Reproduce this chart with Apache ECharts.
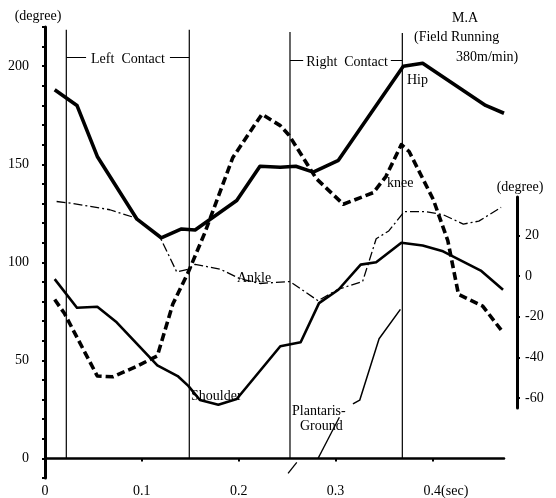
<!DOCTYPE html>
<html>
<head>
<meta charset="utf-8">
<script src="https://cdn.jsdelivr.net/npm/echarts@6/dist/echarts.min.js"></script>
<style>
  html, body { margin: 0; background: #fff; }
  #chart { width: 556px; height: 498px; }
</style>
</head>
<body>
<div id="chart"></div>
<script>
// time in sec, angles in degree (left axis)
const hipTime  = [0.010, 0.033, 0.054, 0.095, 0.120, 0.141, 0.155, 0.198, 0.222, 0.243, 0.259, 0.277, 0.303, 0.370, 0.390, 0.455, 0.474];
const hipAngle = [188, 180, 154, 122, 112.5, 117, 116.5, 131.5, 149, 148.5, 149, 146, 152, 200, 201.5, 180, 176];

const kneeTime  = [0.010, 0.020, 0.054, 0.070, 0.095, 0.116, 0.132, 0.148, 0.165, 0.194, 0.224, 0.243, 0.252, 0.280, 0.308, 0.339, 0.352, 0.368, 0.376, 0.401, 0.416, 0.427, 0.435, 0.452, 0.471];
const kneeAngle = [81, 74, 42, 41.6, 47, 52.3, 78.7, 95, 115, 153.5, 175.5, 169.7, 164.8, 142.8, 129.6, 135.5, 143.7, 160, 156.5, 132, 111, 83.6, 81.7, 77.7, 65.5];

const shoulderTime  = [0.010, 0.033, 0.054, 0.074, 0.116, 0.137, 0.148, 0.160, 0.179, 0.198, 0.243, 0.264, 0.283, 0.303, 0.326, 0.342, 0.368, 0.390, 0.411, 0.450, 0.473];
const shoulderAngle = [91.4, 76.8, 77.3, 69.4, 47.4, 42, 37, 29.8, 27.4, 30.3, 57.2, 59.2, 79.2, 86, 98.8, 100, 110, 108.6, 105.6, 95.8, 86];

// right axis (degree)
const ankleTime  = [0.012, 0.029, 0.067, 0.095, 0.119, 0.136, 0.148, 0.155, 0.181, 0.201, 0.222, 0.253, 0.282, 0.303, 0.328, 0.342, 0.355, 0.371, 0.393, 0.411, 0.432, 0.448, 0.471];
const ankleAngle = [33, 32, 28.8, 24.4, 14.6, -2.9, -1.5, 1, -1.5, -6.3, -8.8, -7.8, -17.6, -11.7, -7.8, 14, 18, 27.8, 27.8, 26.3, 21.5, 23, 30];

const plantarisTime  = [0.318, 0.325, 0.345, 0.367];
const plantarisAngle = [-70.2, -68.3, -37, -22];
const leaderTime  = [0.304, 0.282];
const leaderAngle = [-77, -98];
const strokeTime  = [0.260, 0.251];
const strokeAngle = [-100, -105.6];

// contact phases
const contactTimes = [0.022, 0.149, 0.253, 0.369];
const contactTop   = [218.6, 218.6, 217.5, 217];
const contactNames = ['Left  Contact', 'Right  Contact'];
const contactLevel = [204.4, 203];

// axis ticks
const xLabels = [0, 0.1, 0.2, 0.3, 0.4];
const leftLabels = [0, 50, 100, 150, 200];
const leftTicks = [-10, 0, 10, 20, 30, 40, 50, 60, 70, 80, 90, 100, 110, 120, 130, 140, 150, 160, 170, 180, 190, 200, 210, 220];
const rightLabels = [-60, -40, -20, 0, 20];

const FONT = '"Liberation Serif", "DejaVu Serif", serif';
const SIZE = 14;
const pair = (xs, ys) => xs.map((x, i) => [x, ys[i]]);

const chart = echarts.init(document.getElementById('chart'));

function curve(name, xs, ys, width, type, yAxisIndex) {
  return {
    name: name,
    type: 'line',
    xAxisIndex: 0,
    yAxisIndex: yAxisIndex || 0,
    data: pair(xs, ys),
    symbol: 'none',
    clip: false,
    lineStyle: { color: '#000', width: width, type: type || 'solid', cap: 'butt', join: 'round' },
    silent: true,
    z: 3
  };
}

const series = [
  curve('Hip', hipTime, hipAngle, 3.6),
  curve('knee', kneeTime, kneeAngle, 3.6, [8, 4]),
  curve('Shoulder', shoulderTime, shoulderAngle, 2.6),
  curve('Ankle', ankleTime, ankleAngle, 1.3, [9, 3, 2, 3], 1),
  curve('Plantaris-Ground', plantarisTime, plantarisAngle, 1.5, 'solid', 1),
  curve('leader', leaderTime, leaderAngle, 1.3, 'solid', 1),
  curve('stroke', strokeTime, strokeAngle, 1.3, 'solid', 1)
];

contactTimes.forEach((t, i) => {
  const s = {
    type: 'line',
    data: [[t, 0], [t, contactTop[i]]],
    symbol: 'none',
    lineStyle: { color: '#000', width: 1.2 },
    silent: true,
    z: 2
  };
  if (i % 2 === 0) {
    const k = i / 2;
    s.markLine = {
      silent: true,
      symbol: 'none',
      lineStyle: { color: '#000', width: 1.2, type: 'solid' },
      label: { show: false },
      data: [[{ coord: [contactTimes[i], contactLevel[k]] }, { coord: [contactTimes[i + 1], contactLevel[k]] }]]
    };
  }
  series.push(s);
});

function txt(text, x, y, align, pad) {
  const style = { text: text, font: SIZE + 'px ' + FONT, fill: '#000', align: align || 'left', verticalAlign: 'middle' };
  if (pad) { style.backgroundColor = '#fff'; style.padding = [1, pad]; }
  return { type: 'text', x: x, y: y, z: 100, silent: true, style: style };
}

const option = {
  animation: false,
  backgroundColor: '#fff',
  grid: [
    { left: 45, right: 52, top: 27, bottom: 1 },
    { left: 517, width: 1, top: 197, bottom: 90 }
  ],
  xAxis: [
    {
      type: 'value', gridIndex: 0, min: 0, max: 0.474,
      splitLine: { show: false },
      axisLine: { show: true, onZero: true, onZeroAxisIndex: 0, lineStyle: { color: '#000', width: 2.5 } },
      axisTick: { show: true, customValues: xLabels, length: 3, lineStyle: { color: '#000', width: 2 } },
      axisLabel: {
        customValues: xLabels, color: '#000', fontFamily: FONT, fontSize: SIZE, margin: 6,
        formatter: v => v === 0.4 ? '{h|(sec)}0.4(sec)' : String(v),
        rich: { h: { color: 'transparent', fontFamily: FONT, fontSize: SIZE } }
      }
    },
    { type: 'value', gridIndex: 1, show: false, min: 0, max: 1 }
  ],
  yAxis: [
    {
      type: 'value', gridIndex: 0, min: -10, max: 220, offset: 8,
      splitLine: { show: false },
      axisLine: { show: true, lineStyle: { color: '#000', width: 3 } },
      axisTick: { show: true, customValues: leftTicks, length: 3, lineStyle: { color: '#000', width: 2 } },
      axisLabel: { customValues: leftLabels, color: '#000', fontFamily: FONT, fontSize: SIZE, margin: 8 }
    },
    { type: 'value', gridIndex: 0, min: -108, max: 122, show: false },
    {
      type: 'value', gridIndex: 1, position: 'right', min: -64.9, max: 38.8,
      splitLine: { show: false },
      axisLine: { show: true, lineStyle: { color: '#000', width: 3 } },
      axisTick: { show: true, customValues: rightLabels, length: 3, lineStyle: { color: '#000', width: 2 } },
      axisLabel: { customValues: rightLabels, color: '#000', fontFamily: FONT, fontSize: SIZE, margin: 7 }
    }
  ],
  graphic: [
    txt(contactNames[0], 128, 59, 'center', 5),
    txt(contactNames[1], 347, 62, 'center', 3),
    txt('(degree)', 38, 16, 'center'),
    txt('(degree)', 520, 187, 'center'),
    txt('M.A', 465, 18, 'center'),
    txt('(Field Running', 414, 37),
    txt('380m/min)', 456, 57),
    txt('Hip', 407, 80),
    txt('knee', 387, 183),
    txt('Ankle', 237, 278),
    txt('Shoulder', 191, 396),
    txt('Plantaris-', 292, 411),
    txt('Ground', 300, 426)
  ],
  series: series
};

chart.setOption(option);
</script>
</body>
</html>
